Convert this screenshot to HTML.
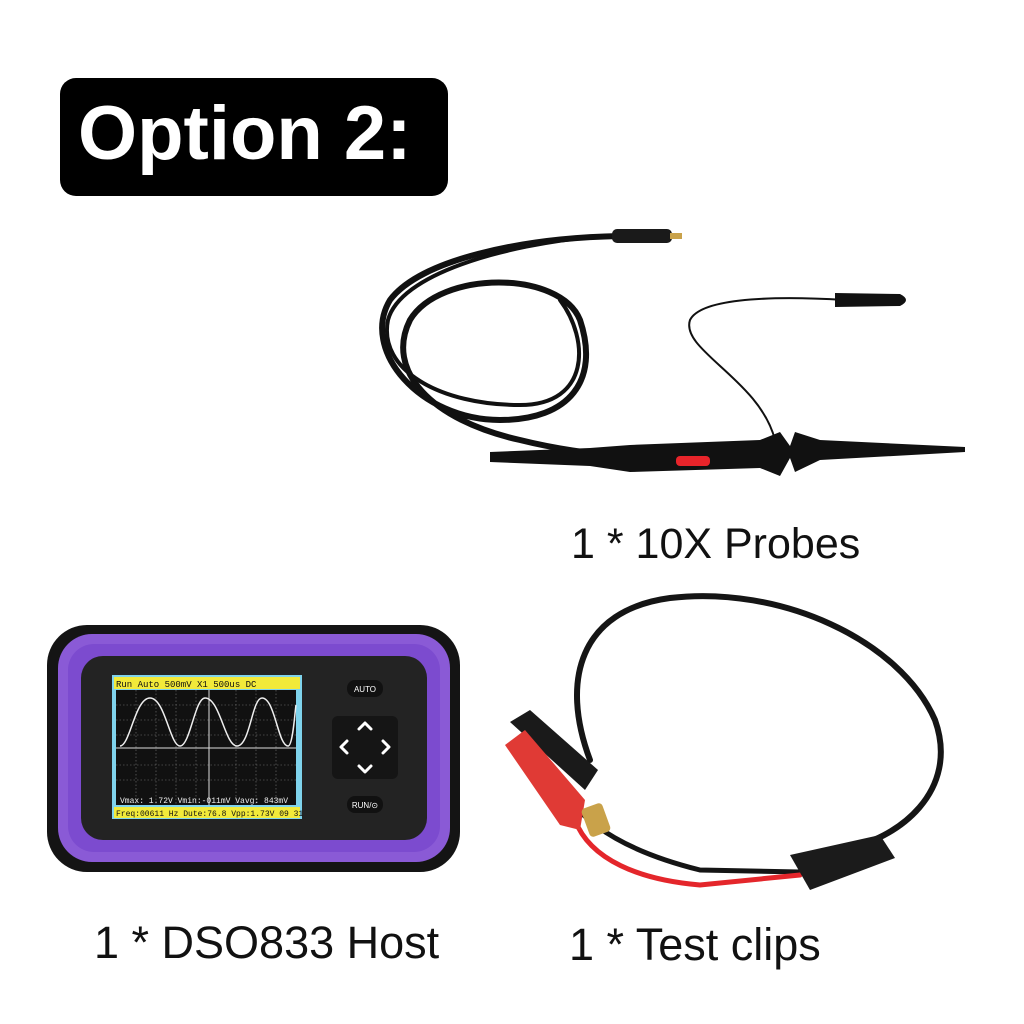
<!DOCTYPE html>
<html><head><meta charset="utf-8"><style>
html,body{margin:0;padding:0;background:#fff;}
body{width:1024px;height:1024px;position:relative;overflow:hidden;font-family:"Liberation Sans",sans-serif;}
.lbl{position:absolute;color:#111;white-space:nowrap;}
</style></head><body>
<div style="position:absolute;left:60px;top:78px;width:388px;height:118px;background:#000;border-radius:16px;"></div>
<div style="position:absolute;left:78px;top:90px;font-size:76px;font-weight:bold;color:#fff;">Option 2:</div>
<div class="lbl" style="left:571px;top:520px;font-size:43px;">1 * 10X Probes</div>
<div class="lbl" style="left:94px;top:917px;font-size:45px;">1 * DSO833 Host</div>
<div class="lbl" style="left:569px;top:919px;font-size:45px;">1 * Test clips</div>
<svg width="1024" height="1024" style="position:absolute;left:0;top:0" xmlns="http://www.w3.org/2000/svg">
<g fill="none" stroke="#111" stroke-linecap="round">
<path d="M620 236 C520 238 420 260 390 300 C360 350 420 420 500 420 C570 420 600 380 580 320 C560 270 440 270 410 320 C385 370 430 420 520 440 C560 450 600 455 640 458" stroke-width="6"/>
<path d="M600 236 C500 245 400 275 388 320 C378 370 440 405 520 405 C590 405 590 340 560 300" stroke-width="4"/>
<path d="M845 300 C760 295 700 300 690 320 C680 350 760 380 775 440" stroke-width="2"/>
</g>
<rect x="612" y="229" width="60" height="14" rx="5" fill="#1a1a1a"/>
<rect x="670" y="233" width="12" height="6" fill="#c9a24a"/>
<path d="M835 293 L900 294 Q912 300 900 306 L835 307 Z" fill="#111"/>
<path d="M490 452 L590 448 L630 445 L760 440 L780 432 L790 446 L795 432 L820 440 L965 447 L965 452 L820 460 L795 472 L790 458 L780 476 L760 468 L630 472 L590 466 L490 462 Z" fill="#111"/>
<rect x="676" y="456" width="34" height="10" rx="4" fill="#e8242a"/>
<g fill="none" stroke-linecap="round">
<path d="M590 760 C560 680 580 610 670 598 C780 585 900 640 935 720 C960 790 900 840 840 850" stroke="#151515" stroke-width="6"/>
<path d="M570 800 C600 840 660 860 700 870 L800 872" stroke="#151515" stroke-width="5"/>
<path d="M575 820 C590 860 640 880 700 885 L800 875" stroke="#e4262b" stroke-width="5"/>
</g>
<path d="M790 855 L880 835 L895 858 L810 890 Z" fill="#1b1b1b"/>
<path d="M510 722 L530 710 L598 770 L585 790 Z" fill="#1a1a1a"/>
<path d="M505 745 L525 730 L585 800 L580 830 L560 825 Z" fill="#e03a35"/>
<rect x="585" y="805" width="22" height="30" rx="4" fill="#c9a24a" transform="rotate(-20 596 820)"/>
<rect x="47" y="625" width="413" height="247" rx="40" fill="#141414"/>
<rect x="58" y="634" width="392" height="228" rx="34" fill="#8a5ad6"/>
<rect x="68" y="644" width="372" height="208" rx="26" fill="#7c4bcf"/>
<rect x="81" y="656" width="346" height="184" rx="22" fill="#232323"/>
<rect x="112" y="675" width="190" height="144" fill="#7fd3ec"/>
<rect x="116" y="690" width="180" height="115" fill="#111"/>
<g stroke="#777" stroke-width="0.6" stroke-dasharray="1.5 2">
<line x1="116" y1="705" x2="296" y2="705"/><line x1="116" y1="720" x2="296" y2="720"/><line x1="116" y1="735" x2="296" y2="735"/><line x1="116" y1="765" x2="296" y2="765"/><line x1="116" y1="780" x2="296" y2="780"/>
<line x1="136" y1="690" x2="136" y2="805"/><line x1="156" y1="690" x2="156" y2="805"/><line x1="176" y1="690" x2="176" y2="805"/><line x1="196" y1="690" x2="196" y2="805"/><line x1="236" y1="690" x2="236" y2="805"/><line x1="256" y1="690" x2="256" y2="805"/><line x1="276" y1="690" x2="276" y2="805"/>
</g>
<line x1="116" y1="748" x2="296" y2="748" stroke="#ddd" stroke-width="1"/>
<line x1="209" y1="690" x2="209" y2="805" stroke="#ddd" stroke-width="1"/>
<path d="M120 746 C130 746 135 698 150 698 C165 698 170 746 180 746 C190 746 195 698 205 698 C220 698 225 746 237 746 C250 746 252 698 262 698 C275 698 278 746 288 746 C293 746 295 710 296 705" fill="none" stroke="#eee" stroke-width="1.5"/>
<rect x="114" y="677" width="186" height="12" fill="#f2ea3a"/>
<text x="116" y="687" font-family="Liberation Mono,monospace" font-size="9" fill="#111">Run  Auto 500mV X1 500us DC</text>
<text x="120" y="803" font-family="Liberation Mono,monospace" font-size="8" fill="#eee">Vmax: 1.72V Vmin:-011mV Vavg: 843mV</text>
<rect x="114" y="807" width="186" height="11" fill="#f2ea3a"/>
<text x="116" y="816" font-family="Liberation Mono,monospace" font-size="8" fill="#111">Freq:00611 Hz Dute:76.8 Vpp:1.73V 09 31</text>
<rect x="347" y="680" width="36" height="17" rx="8" fill="#111"/>
<text x="365" y="692" text-anchor="middle" font-size="8" fill="#fff">AUTO</text>
<rect x="347" y="796" width="36" height="17" rx="8" fill="#111"/>
<text x="365" y="808" text-anchor="middle" font-size="8" fill="#fff">RUN/⊙</text>
<rect x="332" y="716" width="66" height="63" rx="6" fill="#151515"/>
<g fill="none" stroke="#fff" stroke-width="3" stroke-linecap="round" stroke-linejoin="round">
<path d="M359 729 L365 723 L371 729"/><path d="M359 766 L365 772 L371 766"/>
<path d="M347 741 L341 747 L347 753"/><path d="M383 741 L389 747 L383 753"/>
</g>
</svg>
</body></html>
